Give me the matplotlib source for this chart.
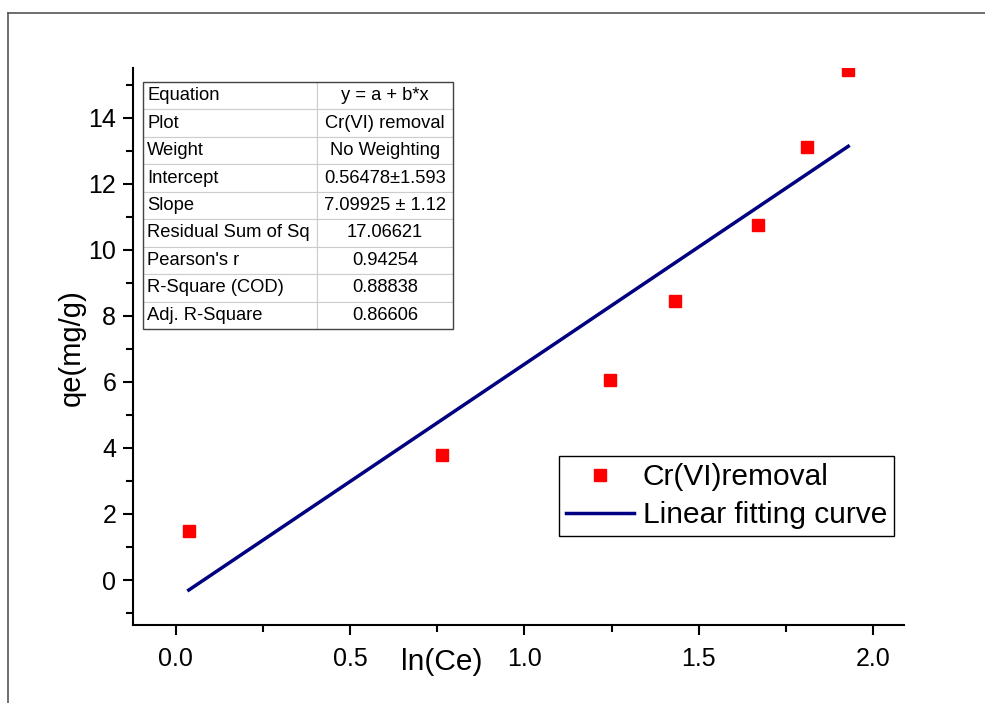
import numpy as np
import matplotlib.pyplot as plt
from matplotlib.lines import Line2D

plt.rcParams['font.family'] = ['Liberation Sans', 'DejaVu Sans']

# data
ln_ce = [0.037, 0.764, 1.245, 1.433, 1.671, 1.811, 1.929]
qe = [1.48, 3.79, 6.06, 8.45, 10.76, 13.12, 15.45]

# fit parameters (line drawn with the negative intercept)
intercept = -0.56478
slope = 7.09925

table_labels = ["Equation", "Plot", "Weight", "Intercept", "Slope",
                "Residual Sum of Sq", "Pearson's r", "R-Square (COD)", "Adj. R-Square"]
table_values = ["y = a + b*x", "Cr(VI) removal", "No Weighting", "0.56478\u00b11.593",
                "7.09925 \u00b1 1.12", "17.06621", "0.94254", "0.88838", "0.86606"]

W, H = 985, 703
fig = plt.figure(figsize=(W / 100, H / 100), dpi=100)
ax = fig.add_axes([133 / W, 1 - 625 / H, (904 - 133) / W, (625 - 68) / H])

# outer frame (top and left edges visible)
fig.add_artist(Line2D([8 / W, 1], [1 - 13 / H, 1 - 13 / H], transform=fig.transFigure,
                      color='#555555', lw=1.2))
fig.add_artist(Line2D([8 / W, 8 / W], [0, 1 - 13 / H], transform=fig.transFigure,
                      color='#555555', lw=1.2))

ax.plot(ln_ce, qe, 's', color='#ff0000', markersize=8.8, label='Cr(VI)removal')
fx = np.array([ln_ce[0], ln_ce[-1]])
ax.plot(fx, intercept + slope * fx, '-', color='#000080', lw=2.5,
        label='Linear fitting curve')

ax.set_xlim(-0.123, 2.089)
ax.set_ylim(-1.36, 15.5)
ax.set_xticks([0.0, 0.5, 1.0, 1.5, 2.0])
ax.set_xticks([0.25, 0.75, 1.25, 1.75], minor=True)
ax.set_xticklabels(['0.0', '0.5', '1.0', '1.5', '2.0'])
ax.set_yticks(range(0, 15, 2))
ax.set_yticks(range(-1, 16, 2), minor=True)
ax.spines['top'].set_visible(False)
ax.spines['right'].set_visible(False)
for s in ['left', 'bottom']:
    ax.spines[s].set_linewidth(1.5)
ax.tick_params(which='both', direction='out', width=1.5, labelsize=18)
ax.tick_params(which='major', length=7)
ax.tick_params(which='minor', length=5)
ax.tick_params(axis='x', which='major', pad=9)
ax.tick_params(axis='y', which='major', pad=5)

ax.set_xlabel('ln(Ce)', fontsize=21.5)
ax.xaxis.set_label_coords((442 - 133) / 771, -(662 - 625) / 557)
ax.xaxis.label.set_va('center')
ax.set_ylabel('qe(mg/g)', fontsize=21)
ax.yaxis.set_label_coords(-(133 - 72) / 771, (625 - 348) / 557)
ax.yaxis.label.set_va('center')

cell_text = [[a, b] for a, b in zip(table_labels, table_values)]
tbl = ax.table(cellText=cell_text, colWidths=[0.561, 0.439],
               bbox=[10 / 771, (625 - 329) / 557, 310 / 771, 247 / 557])
tbl.auto_set_font_size(False)
tbl.set_fontsize(13.2)
for (r, c), cell in tbl.get_celld().items():
    cell.set_edgecolor('#cccccc')
    cell.set_linewidth(0.8)
    cell.PAD = 0.025
    if c == 0:
        cell.set_text_props(ha='left')
        cell._loc = 'left'
    else:
        cell.set_text_props(ha='center')
        cell._loc = 'center'
ax.add_patch(plt.Rectangle((10 / 771, (625 - 329) / 557), 310 / 771, 247 / 557,
                           transform=ax.transAxes, fill=False, edgecolor='#444444',
                           lw=1.0, zorder=10))

leg = ax.legend(loc='upper left', bbox_to_anchor=((559 - 133) / 771, (625 - 456) / 557),
                fontsize=21.5, frameon=True, fancybox=False, shadow=False,
                handlelength=2.25, handletextpad=0.3, borderpad=0.25,
                labelspacing=0.32, borderaxespad=0, markerscale=1.0)
leg.get_frame().set_edgecolor('black')
leg.get_frame().set_linewidth(1.0)
leg.get_frame().set_alpha(1)

fig.savefig('out.png', dpi=100)
